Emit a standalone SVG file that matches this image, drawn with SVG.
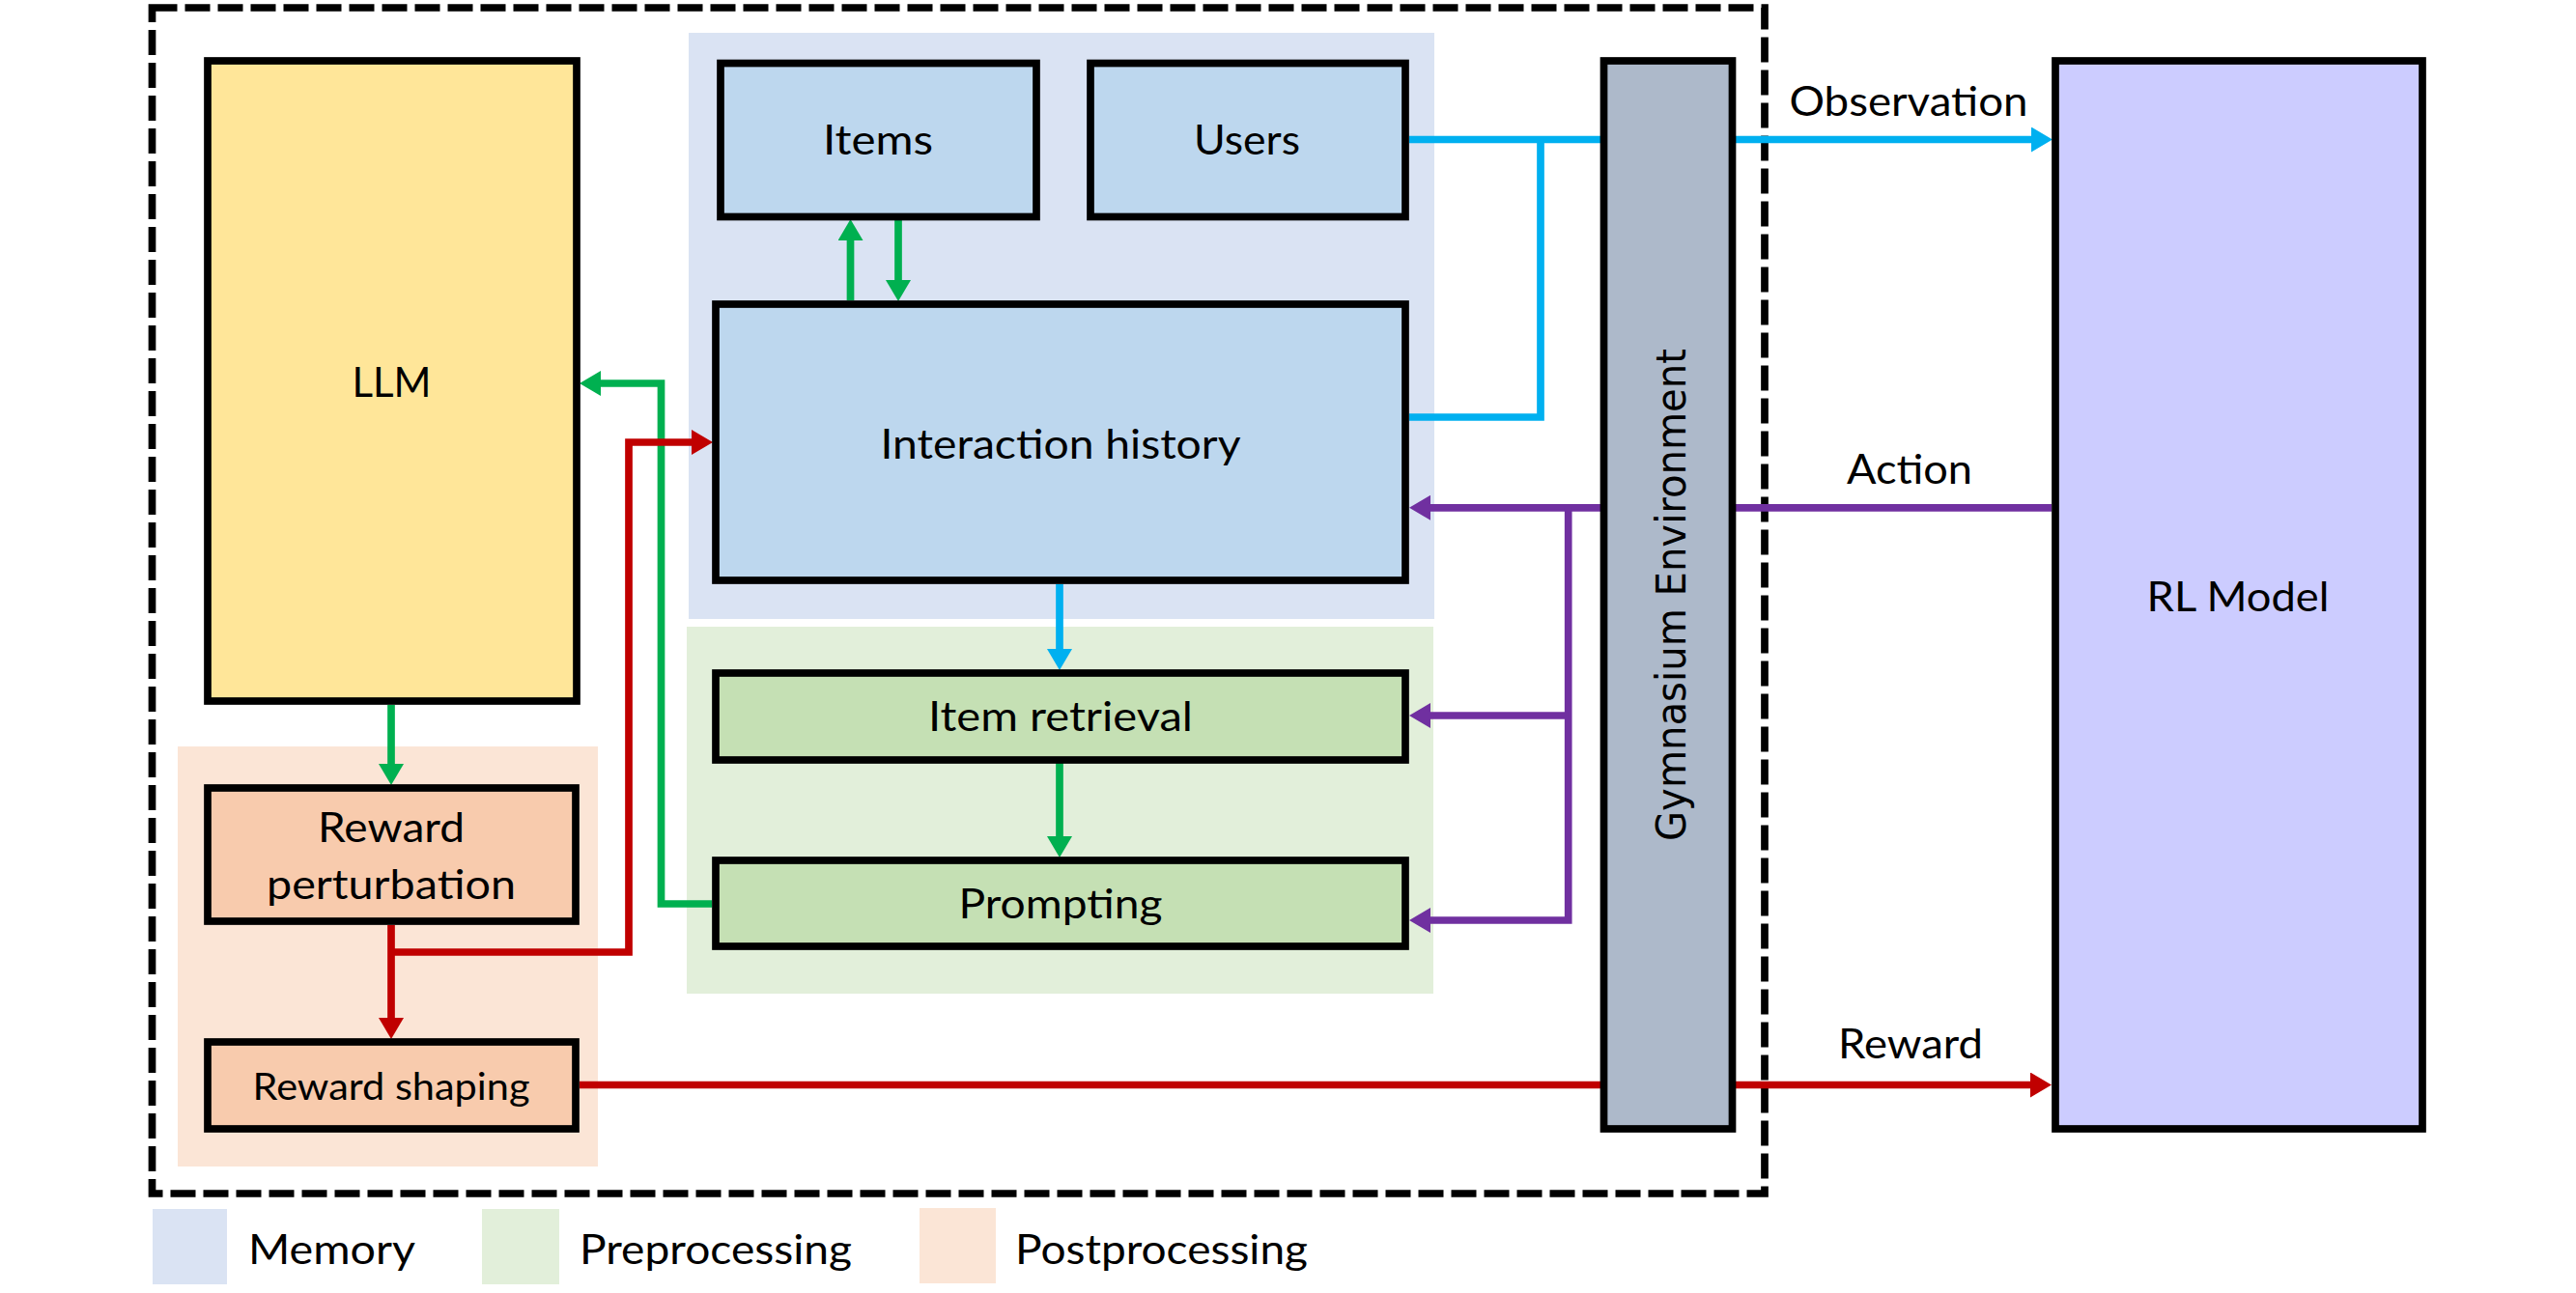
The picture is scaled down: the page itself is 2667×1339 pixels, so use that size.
<svg xmlns="http://www.w3.org/2000/svg" width="2667" height="1339" viewBox="0 0 2667 1339">
<style>
.box{stroke:#000;stroke-width:7.7}
.lbl{font-family:Lato,"Open Sans","Liberation Sans",sans-serif;font-size:43px;fill:#000;text-anchor:middle}
.leg{font-family:Lato,"Open Sans","Liberation Sans",sans-serif;font-size:43px;fill:#000}
.ln{fill:none;stroke-width:7.7;stroke-linejoin:miter}
.blue{stroke:#00B0F0}
.green{stroke:#00B050}
.red{stroke:#C00000}
.purple{stroke:#7030A0}
</style>
<defs>
<marker id="ab" markerUnits="userSpaceOnUse" markerWidth="22" markerHeight="26" viewBox="0 0 22 26" refX="0" refY="13" orient="auto"><path d="M0,0 L22,13 L0,26 Z" fill="#00B0F0"/></marker>
<marker id="ag" markerUnits="userSpaceOnUse" markerWidth="22" markerHeight="26" viewBox="0 0 22 26" refX="0" refY="13" orient="auto"><path d="M0,0 L22,13 L0,26 Z" fill="#00B050"/></marker>
<marker id="ar" markerUnits="userSpaceOnUse" markerWidth="22" markerHeight="26" viewBox="0 0 22 26" refX="0" refY="13" orient="auto"><path d="M0,0 L22,13 L0,26 Z" fill="#C00000"/></marker>
<marker id="ap" markerUnits="userSpaceOnUse" markerWidth="22" markerHeight="26" viewBox="0 0 22 26" refX="0" refY="13" orient="auto"><path d="M0,0 L22,13 L0,26 Z" fill="#7030A0"/></marker>
</defs>
<rect width="2667" height="1339" fill="#fff"/>
<g id="regions">
<rect id="memory-region" x="713" y="34" width="772" height="607" fill="#DAE3F3"/>
<rect id="preprocessing-region" x="711" y="649" width="773" height="380" fill="#E2EFDA"/>
<rect id="postprocessing-region" x="184" y="773" width="435" height="435" fill="#FBE5D6"/>
</g>
<rect id="boundary" x="157.5" y="8" width="1669.5" height="1228" fill="none" stroke="#000" stroke-width="7.7" stroke-dasharray="26 8"/>
<g id="connectors">
<path class="ln blue" d="M1459,144.5 H2103" marker-end="url(#ab)"/>
<path class="ln blue" d="M1459,432 H1595 V144.5"/>
<path class="ln blue" d="M1097,605 V672" marker-end="url(#ab)"/>
<path class="ln green" d="M880.5,311 V249" marker-end="url(#ag)"/>
<path class="ln green" d="M930,228 V290" marker-end="url(#ag)"/>
<path class="ln green" d="M405,730 V791" marker-end="url(#ag)"/>
<path class="ln green" d="M737,936 H684.5 V397 H622" marker-end="url(#ag)"/>
<path class="ln green" d="M1097,790 V866" marker-end="url(#ag)"/>
<path class="ln red" d="M405,958 V1054" marker-end="url(#ar)"/>
<path class="ln red" d="M405,986 H651 V458 H716" marker-end="url(#ar)"/>
<path class="ln red" d="M600,1123.5 H2102" marker-end="url(#ar)"/>
<path class="ln purple" d="M2124,525.8 H1481" marker-end="url(#ap)"/>
<path class="ln purple" d="M1623.7,525.8 V953 H1481" marker-end="url(#ap)"/>
<path class="ln purple" d="M1623.7,741 H1481" marker-end="url(#ap)"/>
</g>
<g id="llm"><rect class="box" x="215" y="63" width="382" height="663" fill="#FFE699"/><text class="lbl" x="405.5" y="411" textLength="82" lengthAdjust="spacingAndGlyphs">LLM</text></g>
<g id="items"><rect class="box" x="746" y="65.5" width="327" height="159" fill="#BDD7EE"/><text class="lbl" x="909" y="160" textLength="114" lengthAdjust="spacingAndGlyphs">Items</text></g>
<g id="users"><rect class="box" x="1129" y="65.5" width="326" height="159" fill="#BDD7EE"/><text class="lbl" x="1291" y="160" textLength="110" lengthAdjust="spacingAndGlyphs">Users</text></g>
<g id="interaction-history"><rect class="box" x="741" y="315" width="714" height="286" fill="#BDD7EE"/><text class="lbl" x="1098" y="475" textLength="373" lengthAdjust="spacingAndGlyphs">Interaction history</text></g>
<g id="item-retrieval"><rect class="box" x="741" y="697" width="714" height="90" fill="#C5E0B4"/><text class="lbl" x="1098" y="757" textLength="274" lengthAdjust="spacingAndGlyphs">Item retrieval</text></g>
<g id="prompting"><rect class="box" x="741" y="891" width="714" height="89" fill="#C5E0B4"/><text class="lbl" x="1098" y="951" textLength="211" lengthAdjust="spacingAndGlyphs">Prompting</text></g>
<g id="reward-perturbation"><rect class="box" x="215" y="816" width="381" height="138" fill="#F8CBAD"/><text class="lbl" x="405" y="872" textLength="152" lengthAdjust="spacingAndGlyphs">Reward</text><text class="lbl" x="405" y="931" textLength="258" lengthAdjust="spacingAndGlyphs">perturbation</text></g>
<g id="reward-shaping"><rect class="box" x="215" y="1079" width="381" height="90" fill="#F8CBAD"/><text class="lbl" x="405" y="1138.5" style="font-size:38px" textLength="287" lengthAdjust="spacingAndGlyphs">Reward shaping</text></g>
<g id="gymnasium-environment"><rect class="box" x="1660.5" y="63" width="133" height="1106" fill="#ADB9CA"/><text x="0" y="0" transform="translate(1745,616) rotate(-90)" style="font-family:'DejaVu Sans',Verdana,sans-serif;font-size:43px;fill:#000;text-anchor:middle" textLength="510" lengthAdjust="spacingAndGlyphs">Gymnasium Environment</text></g>
<g id="rl-model"><rect class="box" x="2128" y="63" width="380" height="1106" fill="#CCCCFF"/><text class="lbl" x="2317" y="633" textLength="189" lengthAdjust="spacingAndGlyphs">RL Model</text></g>
<g id="edge-labels">
<text class="lbl" x="1976" y="120" textLength="247" lengthAdjust="spacingAndGlyphs">Observation</text>
<text class="lbl" x="1977" y="501" textLength="130" lengthAdjust="spacingAndGlyphs">Action</text>
<text class="lbl" x="1978" y="1096" textLength="150" lengthAdjust="spacingAndGlyphs">Reward</text>
</g>
<g id="legend">
<rect x="158" y="1252" width="77" height="78" fill="#DAE3F3"/>
<text class="leg" x="257" y="1309" textLength="173" lengthAdjust="spacingAndGlyphs">Memory</text>
<rect x="499" y="1252" width="80" height="78" fill="#E2EFDA"/>
<text class="leg" x="600" y="1309" textLength="282" lengthAdjust="spacingAndGlyphs">Preprocessing</text>
<rect x="952" y="1251" width="79" height="78" fill="#FBE5D6"/>
<text class="leg" x="1051" y="1309" textLength="303" lengthAdjust="spacingAndGlyphs">Postprocessing</text>
</g>
</svg>
